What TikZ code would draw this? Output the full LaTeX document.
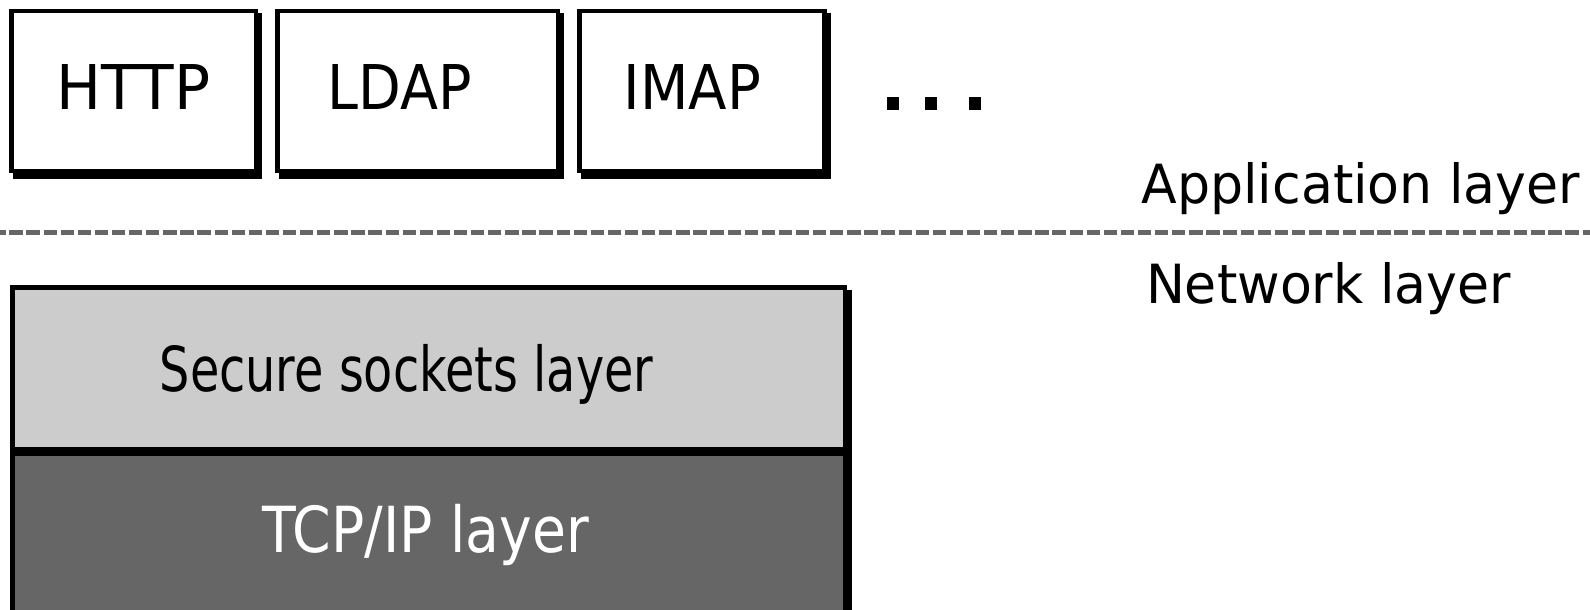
\documentclass[tikz,border=0pt]{standalone}
\usepackage{fontspec}
\setmainfont{DejaVu Sans}
\usetikzlibrary{backgrounds}

\definecolor{sslgray}{HTML}{CCCCCC}
\definecolor{tcpgray}{HTML}{666666}
\definecolor{rulegray}{HTML}{666666}

% horizontally condensed text at a given size
\newcommand{\lbltext}[3]{\fontsize{#1}{#1}\selectfont\scalebox{#2}[1]{#3}}

\tikzset{
  protobox/.style={draw=black, fill=white, line width=4.3pt, inner sep=0pt},
  layerbox/.style={draw=black, line width=4.5pt, inner sep=0pt,
                   minimum width=832.5pt},
  lbl/.style={inner sep=0pt, outer sep=0pt, anchor=base},
  sidelbl/.style={inner sep=0pt, outer sep=0pt, anchor=base west},
  dotsq/.style={fill=black, inner sep=0pt, minimum width=12pt, minimum height=13pt},
  boxshadow/.style={fill=black},
  divider/.style={draw=rulegray, line width=5pt, dash pattern=on 13.3pt off 3.8pt, dash phase=7.8pt}
}

\begin{document}
\begin{tikzpicture}[x=1pt, y=-1pt]
  \clip (0,0) rectangle (1590,610);

  % application protocols
  \node[protobox, minimum width=244.7pt, minimum height=160pt] (http) at (133.8,91.15) {};
  \node[protobox, minimum width=280.4pt, minimum height=160pt] (ldap) at (417.65,91.15) {};
  \node[protobox, minimum width=245.1pt, minimum height=160pt] (imap) at (702,91.15) {};

  \node[lbl] (httpt) at (133.5,109) {\lbltext{61.7}{0.97}{HTTP}};
  \node[lbl] (ldapt) at (399.5,109) {\lbltext{61.7}{0.9}{LDAP}};
  \node[lbl] (imapt) at (692.5,109) {\lbltext{61.7}{0.91}{IMAP}};

  % ellipsis
  \node[dotsq] (dot1) at (893,103.5) {};
  \node[dotsq] (dot2) at (931,103.5) {};
  \node[dotsq] (dot3) at (974.5,103.5) {};

  % layer boundary
  \coordinate (ruleL) at (0,232.5);
  \coordinate (ruleR) at (1590,232.5);
  \draw[divider] (ruleL) -- (ruleR);

  \node[sidelbl] (applbl) at (1141.6,203) {\lbltext{54}{0.965}{Application layer}};
  \node[sidelbl] (netlbl) at (1146,303) {\lbltext{54}{0.965}{Network layer}};

  % network stack
  \node[layerbox, fill=sslgray, minimum height=162pt] (ssl) at (428.5,368.25) {};
  \node[layerbox, fill=tcpgray, minimum height=158pt] (tcp) at (428.5,532.75) {};

  \node[lbl] (sslt) at (406.5,391) {\lbltext{62}{0.77}{Secure sockets layer}};
  \node[lbl, text=white] (tcpt) at (425.5,552) {\lbltext{63.5}{0.87}{TCP/IP layer}};

  % drop shadows
  \begin{scope}[on background layer]
    \fill[boxshadow] ([shift={(4,4.3)}]http.north west) rectangle ([shift={(4,5.7)}]http.south east);
    \fill[boxshadow] ([shift={(4,4.3)}]ldap.north west) rectangle ([shift={(4,5.7)}]ldap.south east);
    \fill[boxshadow] ([shift={(4,4.3)}]imap.north west) rectangle ([shift={(4,5.7)}]imap.south east);
    \fill[boxshadow] ([shift={(5,5)}]ssl.north west) rectangle ([shift={(5,5)}]tcp.south east);
  \end{scope}
\end{tikzpicture}
\end{document}
